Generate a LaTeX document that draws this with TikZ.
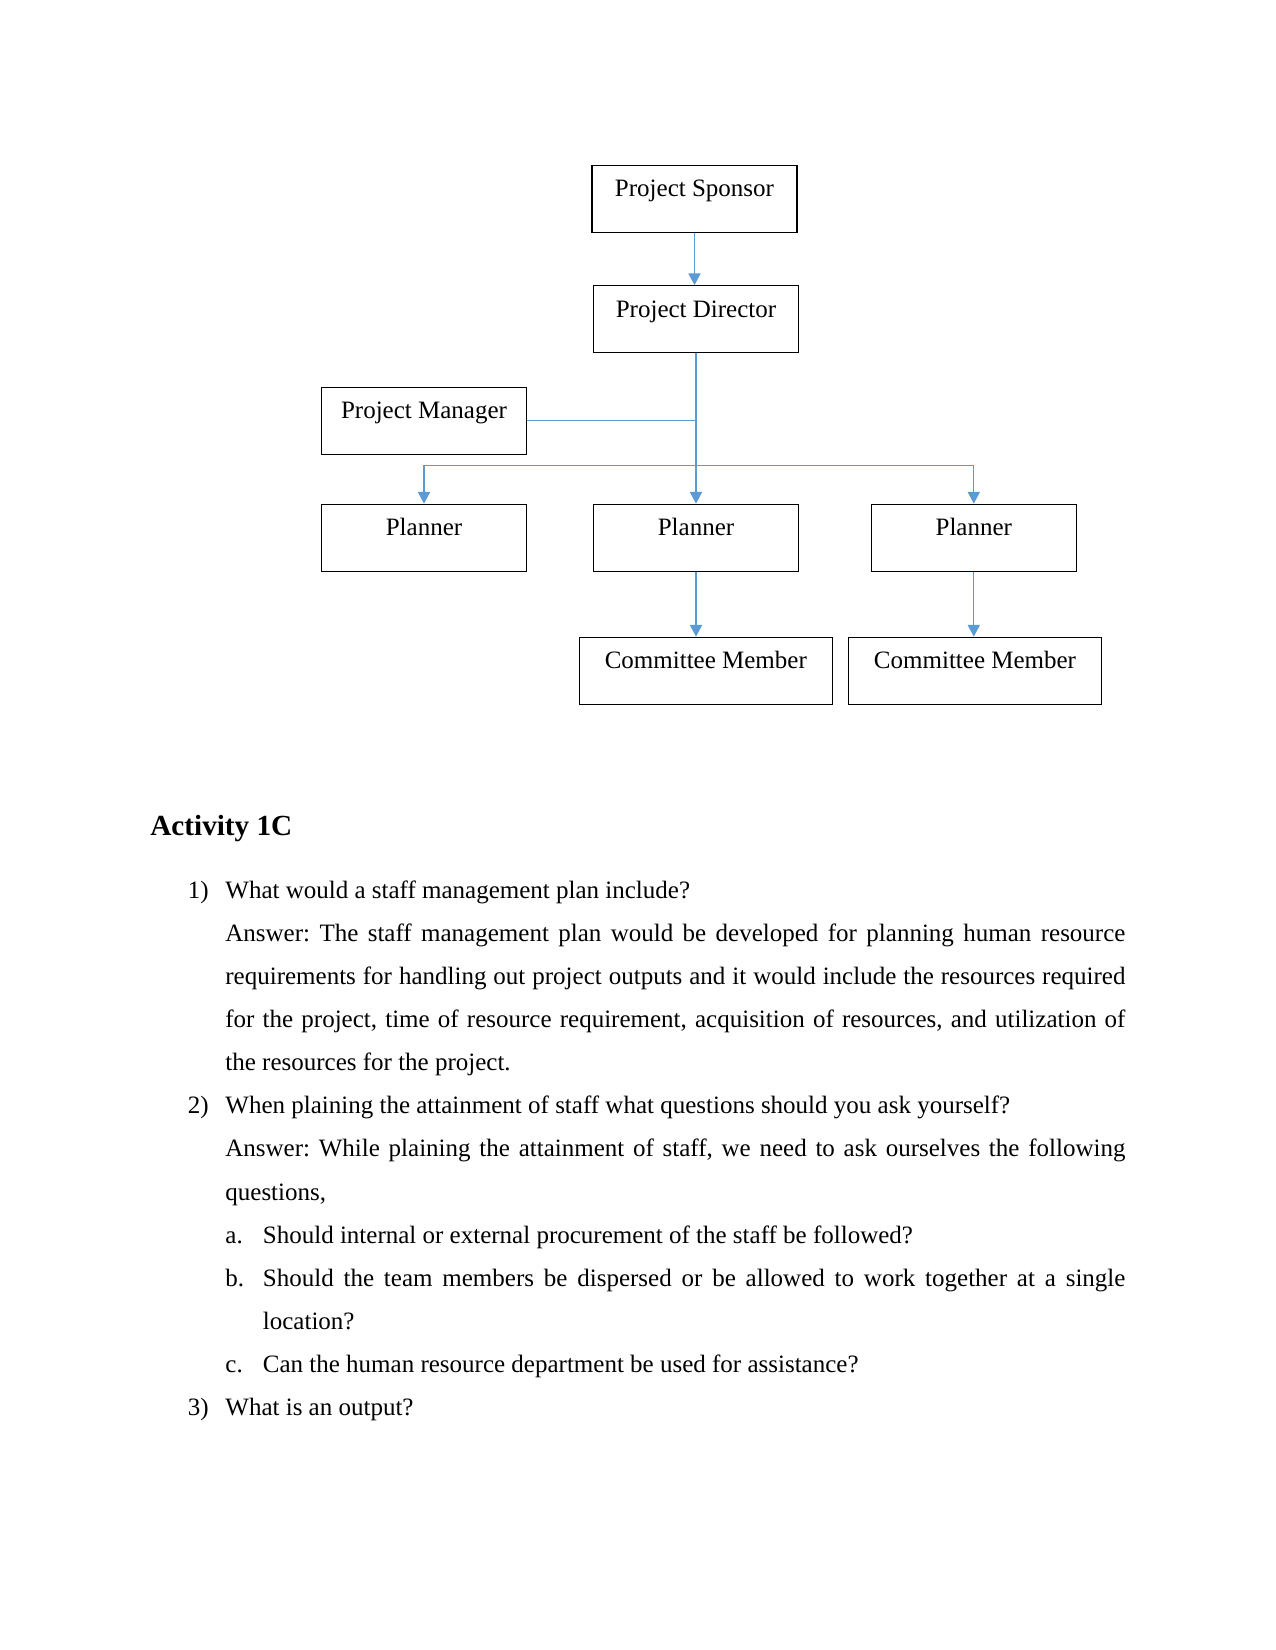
\documentclass[tikz,border=0pt]{standalone}
\usepackage{fontspec}
\setmainfont{Liberation Serif}
\usetikzlibrary{arrows.meta}
\definecolor{linkblue}{HTML}{5B9BD5}
\frenchspacing

\begin{document}
\begin{tikzpicture}[x=0.48pt,y=-0.48pt]

    \tikzset{
      box/.style={
        draw,
        line width=0.6pt,
        inner xsep=0pt,
        inner ysep=0pt,
        minimum width=98.4pt,
        text height=15pt,
        text depth=17.2pt,
        font=\fontsize{12}{14}\selectfont,
      },
      widebox/.style={box,minimum width=121.5pt},
      link/.style={color=linkblue,line width=0.6pt,>={Triangle[width=5.8pt,length=5.6pt]}},
      textline/.style={anchor=base west,inner sep=0pt,font=\fontsize{12}{14}\selectfont},
      heading/.style={anchor=base west,inner sep=0pt,font=\fontsize{14}{16}\selectfont\bfseries},
    }
    \path[use as bounding box,fill=white] (0,0) rectangle (1275,1650);

	\node[box] (sponsor) at (694.5,198.8) {Project Sponsor};
	\node[box] (director) at (696,319.3) {Project Director};
	\node[box] (manager) at (424,420.8) {Project Manager};
	\node[box] (planner1) at (424,537.8) {Planner};
	\node[box] (planner2) at (696,537.8) {Planner};
	\node[box] (planner3) at (973.8,537.8) {Planner};
	\node[widebox] (member1) at (705.8,670.8) {Committee Member};
	\node[widebox] (member2) at (975,670.8) {Committee Member};
	\coordinate (bus) at (696,465.3);

	\draw[link,->] (sponsor.south) -- (sponsor.south |- director.north);
	\draw[link,->] (director.south) -- (planner2.north);
	\draw[link] (manager.east) -- (manager.east -| director.south);
	\draw[link,->] (bus) -| (planner1.north);
	\draw[link,->] (bus) -| (planner3.north);
	\draw[link,->] (planner2.south) -- (planner2.south |- member1.north);
	\draw[link,->] (planner3.south) -- (planner3.south |- member2.north);

	\node[heading] (title) at (150,835.7) {Activity 1C};

	\node[textline] (n1) at (187.5,898.3) {1)};
	\node[textline] (q1) at (225,898.3) {What would a staff management plan include?};
	\node[textline] (a1l1) at (225,941.4) {\makebox[432pt][s]{Answer: The staff management plan would be developed for planning human resource}};
	\node[textline] (a1l2) at (225,984.5) {\makebox[432pt][s]{requirements for handling out project outputs and it would include the resources required}};
	\node[textline] (a1l3) at (225,1027.6) {\makebox[432pt][s]{for the project, time of resource requirement, acquisition of resources, and utilization of}};
	\node[textline] (a1l4) at (225,1070.7) {the resources for the project.};

	\node[textline] (n2) at (187.5,1113.8) {2)};
	\node[textline] (q2) at (225,1113.8) {When plaining the attainment of staff what questions should you ask yourself?};
	\node[textline] (a2l1) at (225,1156.9) {\makebox[432pt][s]{Answer: While plaining the attainment of staff, we need to ask ourselves the following}};
	\node[textline] (a2l2) at (225,1200) {questions,};
	\node[textline] (ma) at (225,1243.1) {a.};
	\node[textline] (ia) at (262.5,1243.1) {Should internal or external procurement of the staff be followed?};
	\node[textline] (mb) at (225,1286.2) {b.};
	\node[textline] (ib1) at (262.5,1286.2) {\makebox[414pt][s]{Should the team members be dispersed or be allowed to work together at a single}};
	\node[textline] (ib2) at (262.5,1329.3) {location?};
	\node[textline] (mc) at (225,1372.4) {c.};
	\node[textline] (ic) at (262.5,1372.4) {Can the human resource department be used for assistance?};

	\node[textline] (n3) at (187.5,1415.5) {3)};
	\node[textline] (q3) at (225,1415.5) {What is an output?};

\end{tikzpicture}
\end{document}
